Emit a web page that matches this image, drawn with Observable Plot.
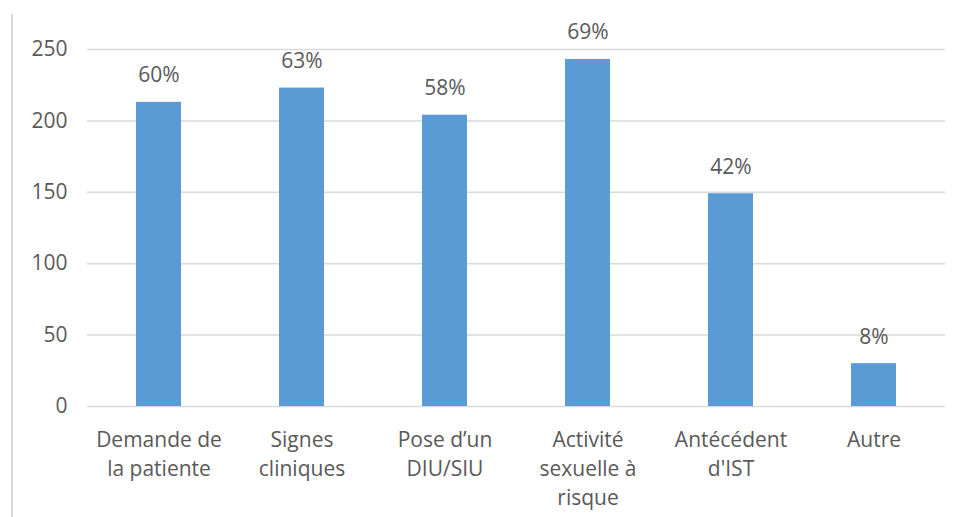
<!DOCTYPE html>
<html>
<head>
<meta charset="utf-8">
<script src="https://cdn.jsdelivr.net/npm/d3@7"></script>
<script src="https://cdn.jsdelivr.net/npm/@observablehq/plot@0.6"></script>
<style>
  html, body { margin: 0; padding: 0; background: #fff; }
  #wrap { position: relative; width: 960px; height: 517px; overflow: hidden; }
  #edge { position: absolute; left: 11px; top: 14px; width: 2px; height: 503px; background: #d9d9d9; }
  #chart { position: absolute; left: 0; top: 0; }
</style>
</head>
<body>
<div id="wrap"><div id="chart"></div><div id="edge"></div></div>
<script>
const categories = ["Demande de\nla patiente", "Signes\ncliniques", "Pose d\u2019un\nDIU/SIU", "Activit\u00e9\nsexuelle \u00e0\nrisque", "Ant\u00e9c\u00e9dent\nd'IST", "Autre"];
const counts = [213, 223, 204, 243, 149, 30];
const percents = ["60%", "63%", "58%", "69%", "42%", "8%"];
const yTicks = [0, 50, 100, 150, 200, 250];

const data = categories.map((c, i) => ({cat: c, n: counts[i], pct: percents[i]}));
const font = "'Open Sans', sans-serif";

const chart = Plot.plot({
  width: 960,
  height: 517,
  marginLeft: 87,
  marginRight: 15,
  marginTop: 49,
  marginBottom: 111,
  style: {fontFamily: font, fontSize: "21px", color: "#595959", background: "white"},
  x: {domain: categories, paddingInner: 0.685, paddingOuter: 0.3425, axis: null},
  y: {domain: [0, 250], ticks: yTicks, tickSize: 0, tickPadding: 20, label: null, grid: false},
  marks: [
    Plot.ruleY(yTicks, {stroke: "#d9d9d9", strokeWidth: 1.5}),
    Plot.barY(data, {x: "cat", y: "n", fill: "#5b9bd5"}),
    Plot.text(data, {x: "cat", y: "n", text: "pct", dy: -20, fill: "#595959", fontSize: 21, lineAnchor: "bottom"}),
    Plot.text(data, {x: "cat", y: () => 0, text: "cat", dy: 20, lineAnchor: "top", lineHeight: 1.38, fill: "#595959", fontSize: 21}),
    Plot.axisY({ticks: yTicks, tickSize: 0, tickPadding: 20, fontSize: 21, fill: "#595959", label: null})
  ]
});
document.getElementById("chart").appendChild(chart);
</script>
</body>
</html>
